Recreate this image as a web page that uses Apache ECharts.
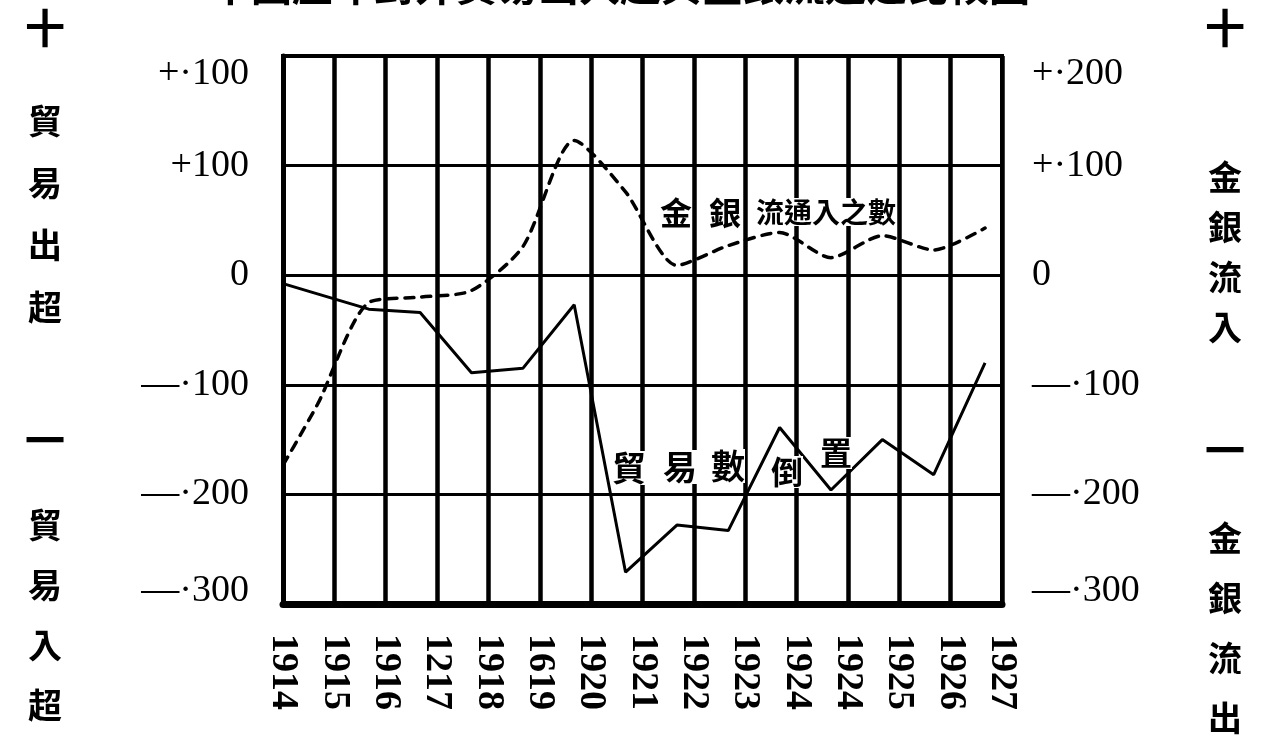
<!DOCTYPE html>
<html><head><meta charset="utf-8">
<script src="https://cdn.jsdelivr.net/npm/echarts@6/dist/echarts.min.js"></script>
<style>html,body{margin:0;padding:0;background:#fff}#c{width:1263px;height:750px}</style>
</head><body><div id="c"></div>
<script>
// categories (as printed, including the printer's typos)
const years = ['1914','1915','1916','1217','1918','1619','1920','1921','1922','1923','1924','1924','1925','1926','1927'];
// trade balance (貿易數倒置), left axis
const tradeBalance = [-3, -17, -31, -34, -89, -85, -27, -271, -228, -233, -139, -196, -150, -182, -80];
// gold & silver net inflow (金銀流入之數), right axis
const goldSilverFlow = [-200, -118, -25, -20, -14, 26, 123, 76, 9, 27, 39, 16, 36, 23, 43];
// tick values and labels as printed
const tickValues = [200, 100, 0, -100, -200, -300];
const leftTickLabels = ['+·100', '+100', '0', '—·100', '—·200', '—·300'];
const rightTickLabels = ['+·200', '+·100', '0', '—·100', '—·200', '—·300'];

const SERIF = '"Liberation Serif","DejaVu Serif",serif';
const CJK = '"Noto Sans CJK TC","Noto Sans CJK SC",sans-serif';

function tickFmt(labels) {
  return function (v) {
    const i = tickValues.indexOf(v);
    if (i < 0) return '';
    if (i === 0) return '{t|' + labels[i] + '}';
    if (i === tickValues.length - 1) return '{b|' + labels[i] + '}';
    return labels[i];
  };
}
const rich = { t: { padding: [36, 0, 0, 0], fontSize: 38, fontFamily: SERIF, color: '#000' },
               b: { padding: [0, 0, 26, 0], fontSize: 38, fontFamily: SERIF, color: '#000' } };

const chart = echarts.init(document.getElementById('c'), null, { renderer: 'canvas' });
function txt(x, y, s, size, extra) {
  return Object.assign({ type: 'text', x: x, y: y, z: 100,
    style: Object.assign({ text: s, fill: '#000', font: 'bold ' + size + 'px ' + CJK,
      align: 'center', verticalAlign: 'middle' }, extra || {}) });
}
chart.setOption({
  backgroundColor: '#fff',
  animation: false,
  grid: { left: 283, right: 261, top: 56, bottom: 146, show: true, borderColor: '#000', borderWidth: 4 },
  xAxis: [
    { type: 'category', data: years, boundaryGap: false, position: 'bottom',
      axisLine: { show: true, onZero: false, lineStyle: { color: '#000', width: 7 } },
      axisTick: { show: false },
      splitLine: { show: true, interval: 0, lineStyle: { color: '#000', width: 4.5 } },
      axisLabel: { interval: 0, hideOverlap: false, rotate: -90, margin: 30, fontSize: 38, fontFamily: SERIF, color: '#000', fontWeight: 'bold' } },
    { type: 'value', min: 0.33, max: 14.33, show: false }
  ],
  yAxis: [
    { type: 'value', min: -300, max: 200, interval: 100, position: 'left',
      axisLine: { show: true, onZero: false, lineStyle: { color: '#000', width: 5 } },
      axisTick: { show: false },
      splitLine: { show: true, lineStyle: { color: '#000', width: 3 } },
      axisLabel: { margin: 34, fontSize: 38, fontFamily: SERIF, color: '#000', formatter: tickFmt(leftTickLabels), rich: rich } },
    { type: 'value', min: -300, max: 200, interval: 100, position: 'right',
      axisLine: { show: true, onZero: false, lineStyle: { color: '#000', width: 4 } },
      axisTick: { show: false },
      splitLine: { show: false },
      axisLabel: { margin: 30, fontSize: 38, fontFamily: SERIF, color: '#000', formatter: tickFmt(rightTickLabels), rich: rich } }
  ],
  series: [
    { name: '貿易數倒置', type: 'line', xAxisIndex: 1, yAxisIndex: 0,
      data: years.map((y, i) => [i, tradeBalance[i]]),
      symbol: 'none', lineStyle: { color: '#000', width: 3 }, z: 5 },
    { name: '金銀流入之數', type: 'line', xAxisIndex: 1, yAxisIndex: 1,
      data: years.map((y, i) => [i, goldSilverFlow[i]]),
      symbol: 'none', smooth: 0.25, lineStyle: { color: '#000', width: 3.5, type: [9, 8], cap: 'round' }, z: 5 }
  ],
  graphic: [
    txt(620, -15, '中國歷年對外貿易出入超與金銀流通之比較圖', 41),
    // left side
    txt(45, 28, '十', 40),
    { type: 'text', x: 45, y: 214, style: { text: '貿\n易\n出\n超', fill: '#000', font: 'bold 34px ' + CJK, align: 'center', verticalAlign: 'middle', lineHeight: 62 } },
    txt(45, 440, '一', 40),
    { type: 'text', x: 45, y: 615, style: { text: '貿\n易\n入\n超', fill: '#000', font: 'bold 34px ' + CJK, align: 'center', verticalAlign: 'middle', lineHeight: 60 } },
    // right side
    txt(1225, 28, '十', 40),
    { type: 'text', x: 1225, y: 252, style: { text: '金\n銀\n流\n入', fill: '#000', font: 'bold 34px ' + CJK, align: 'center', verticalAlign: 'middle', lineHeight: 50 } },
    txt(1225, 450, '一', 40),
    { type: 'text', x: 1225, y: 628, style: { text: '金\n銀\n流\n出', fill: '#000', font: 'bold 34px ' + CJK, align: 'center', verticalAlign: 'middle', lineHeight: 60 } },
    // in-plot annotations
    txt(676, 213, '金', 32, { backgroundColor: '#fff' }),
    txt(725, 213, '銀', 32, { backgroundColor: '#fff' }),
    txt(826, 212, '流通入之數', 28, { backgroundColor: '#fff' }),
    txt(629, 468, '貿', 34, { backgroundColor: '#fff' }),
    txt(680, 467, '易', 34, { backgroundColor: '#fff' }),
    txt(728, 466, '數', 34, { backgroundColor: '#fff' }),
    txt(787, 472, '倒', 32, { backgroundColor: '#fff' }),
    txt(836, 453, '置', 32, { backgroundColor: '#fff' })
  ]
});
</script>
</body></html>
